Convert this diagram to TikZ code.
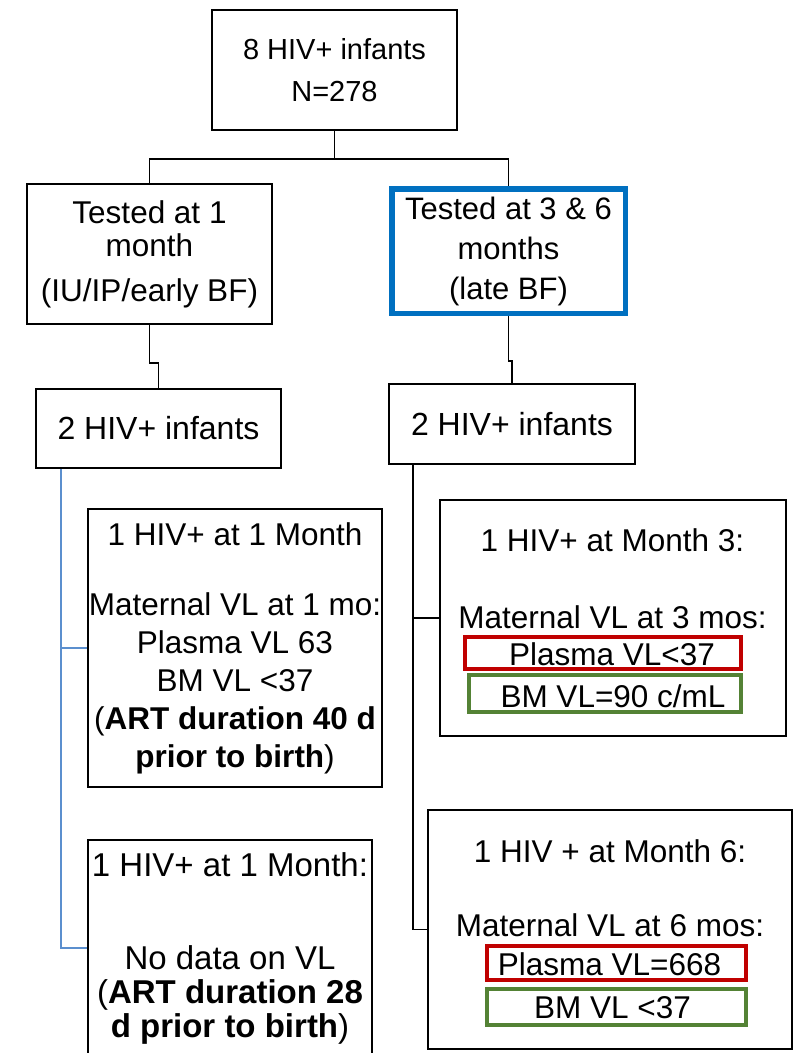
\documentclass[tikz,border=0pt]{standalone}
\usepackage{fontspec}
\setmainfont{Liberation Sans}
\usepackage{tikz}
\usetikzlibrary{positioning}
\definecolor{frameblue}{RGB}{0,112,192}
\definecolor{linkblue}{RGB}{91,143,206}
\definecolor{plasmared}{RGB}{192,0,0}
\definecolor{milkgreen}{RGB}{84,130,53}
\begin{document}
\begin{tikzpicture}[x=1pt, y=-1pt,
    box/.style={draw, line width=2pt, align=center, inner sep=0pt, font=\fontsize{31.5}{38}\selectfont},
    txt/.style={align=center, inner sep=0pt, font=\fontsize{31.5}{38}\selectfont},
    conn/.style={line width=1.2pt},
    trunk/.style={line width=1.6pt, linkblue},
    vlbox/.style={draw, line width=4pt, inner sep=0pt}]
    \useasboundingbox (0,0) rectangle (795,1053);

    \node[box, minimum width=245pt, minimum height=120pt, font=\fontsize{29}{42}\selectfont] (all) at (334.5,70) {8 HIV+ infants\\N=278};
    \node[box, minimum width=245pt, minimum height=140pt, font=\fontsize{31.5}{33}\selectfont] (early) at (149.5,254) {Tested at 1\\month\\[12pt](IU/IP/early BF)};
    \node[box, draw=frameblue, line width=5.5pt, minimum width=233.5pt, minimum height=124.5pt, font=\fontsize{31}{40}\selectfont] (late) at (508.5,251) {Tested at 3 \& 6\\months\\(late BF)};
    \node[box, minimum width=245pt, minimum height=79pt, font=\fontsize{32}{38}\selectfont] (inf1) at (158.5,428.5) {2 HIV+ infants};
    \node[box, minimum width=246pt, minimum height=80pt, font=\fontsize{32}{38}\selectfont] (inf36) at (512,424) {2 HIV+ infants};

    \node[box, minimum width=294pt, minimum height=278pt] (m1) at (235,648) {1 HIV+ at 1 Month\\[32pt]Maternal VL at 1 mo:\\Plasma VL 63\\BM VL <37\\(\textbf{ART duration 40 d}\\\textbf{prior to birth})};
    \node[box, minimum width=284pt, minimum height=216pt, font=\fontsize{33}{34}\selectfont] (m1b) at (230,948) {1 HIV+ at 1 Month:\\[59pt]No data on VL\\(\textbf{ART duration 28}\\\textbf{d prior to birth})};

    \node[box, minimum width=346pt, minimum height=236pt] (m3) at (613,618) {};
    \node[txt] (m3t) at (612.5,578.5) {1 HIV+ at Month 3:\\[39pt]Maternal VL at 3 mos:};
    \node[vlbox, draw=plasmared, minimum width=276pt, minimum height=32pt] (pl3) at (603,653) {};
    \node[txt, anchor=base] (pl3t) at (612,665) {Plasma VL<37};
    \node[vlbox, draw=milkgreen, minimum width=272pt, minimum height=37pt] (bm3) at (605,693.5) {};
    \node[txt, anchor=base] (bm3t) at (613,707) {BM VL=90 c/mL};

    \node[box, minimum width=364pt, minimum height=239pt] (m6) at (610,929.5) {};
    \node[txt] (m6t) at (610,888.5) {1 HIV + at Month 6:\\[36pt]Maternal VL at 6 mos:};
    \node[vlbox, draw=plasmared, minimum width=259pt, minimum height=34pt] (pl6) at (616.5,963) {};
    \node[txt, anchor=base] (pl6t) at (609.5,975) {Plasma VL=668};
    \node[vlbox, draw=milkgreen, minimum width=259pt, minimum height=36pt] (bm6) at (616.5,1007) {};
    \node[txt, anchor=base] (bm6t) at (612.5,1018) {BM VL <37};

    \draw[conn] (all.south) -- ++(0,28) coordinate (fork);
    \draw[conn] (fork) -| (early.north);
    \draw[conn] (fork) -| (late.north);
    \draw[conn] (early.south) -- ++(0,38) -| (inf1.north);
    \draw[conn] (late.south) -- ++(0,45) -| (inf36.north);

    \coordinate (rtrunk) at ([xshift=25pt]inf36.south west);
    \draw[conn] (rtrunk) |- (m6.west);
    \draw[conn] (rtrunk |- m3.west) -- (m3.west);
    \coordinate (ltrunk) at ([xshift=26pt]inf1.south west);
    \draw[trunk] (ltrunk) |- (m1b.west);
    \draw[trunk] (ltrunk |- m1.west) -- (m1.west);
\end{tikzpicture}
\end{document}
